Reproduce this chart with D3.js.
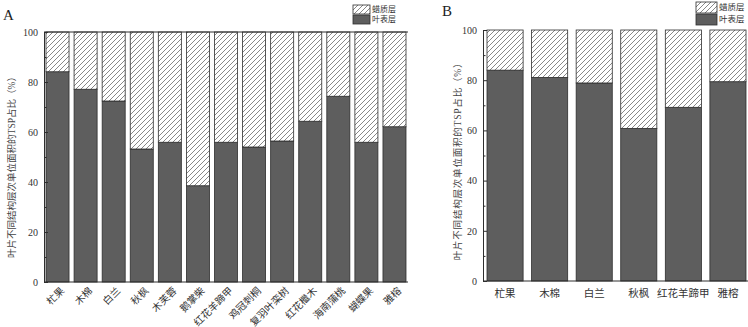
<!DOCTYPE html>
<html>
<head>
<meta charset="utf-8">
<script src="https://cdn.jsdelivr.net/npm/d3@7"></script>
<style>
  body { margin: 0; background: #fff; }
  svg { display: block; }
</style>
</head>
<body>
<svg id="chart" width="748" height="327"></svg>
<script>
// Panel A: 13 species
const speciesA = ["杧果", "木棉", "白兰", "秋枫", "木芙蓉", "鹅掌柴", "红花羊蹄甲", "鸡冠刺桐", "复羽叶栾树", "红花檵木", "海南蒲桃", "蝴蝶果", "雅榕"]
const epidermisA = [84.1, 77.1, 72.4, 53.2, 55.9, 38.5, 55.9, 54.0, 56.4, 64.3, 74.3, 55.9, 62.1]
const waxA = [15.9, 22.9, 27.6, 46.8, 44.1, 61.5, 44.1, 46.0, 43.6, 35.7, 25.7, 44.1, 37.9]

// Panel B: 6 species
const speciesB = ["杧果", "木棉", "白兰", "秋枫", "红花羊蹄甲", "雅榕"]
const epidermisB = [84.0, 81.1, 78.9, 60.8, 69.2, 79.4]
const waxB = [16.0, 18.9, 21.1, 39.2, 30.8, 20.6]

const seriesNames = ["叶表层", "蜡质层"]
const majorTicks = [0, 20, 40, 60, 80, 100]
const minorTicks = [10, 30, 50, 70, 90]
const yTitle = "叶片不同结构层次单位面积的TSP占比（%）"

const serif = "'Liberation Serif', 'Times New Roman', serif"
const cjk = "'Liberation Serif', 'Noto Sans CJK SC', serif"
const darkFill = "#5e5e5e"
const edge = "#2e2e2e"
const textColor = "#333"

const svg = d3.select("#chart")

// diagonal hatch for the wax layer
const defs = svg.append("defs")
const pat = defs.append("pattern")
  .attr("id", "hatch")
  .attr("patternUnits", "userSpaceOnUse")
  .attr("width", 5)
  .attr("height", 5)
pat.append("rect").attr("width", 5).attr("height", 5).attr("fill", "#fff")
pat.append("path")
  .attr("d", "M-1,1 L1,-1 M0,5 L5,0 M4,6 L6,4")
  .attr("stroke", "#555")
  .attr("stroke-width", 0.7)

function drawPanel(cfg) {
  const rows = cfg.species.map((s, i) => ({ name: s, 叶表层: cfg.epidermis[i], 蜡质层: cfg.wax[i] }))
  const stacked = d3.stack().keys(seriesNames)(rows)

  const x = d3.scaleBand()
    .domain(cfg.species)
    .range(cfg.xRange)
    .paddingInner(cfg.pad)
    .paddingOuter(0)

  const y = d3.scaleLinear()
    .domain([0, 100])
    .range(cfg.yRange)

  const g = svg.append("g")

  // bars
  stacked.forEach(layer => {
    g.append("g")
      .selectAll("rect")
      .data(layer)
      .join("rect")
      .attr("x", d => x(d.data.name))
      .attr("width", x.bandwidth())
      .attr("y", d => y(d[1]))
      .attr("height", d => y(d[0]) - y(d[1]))
      .attr("fill", layer.key === "蜡质层" ? "url(#hatch)" : darkFill)
      .attr("stroke", edge)
      .attr("stroke-width", 0.8)
  })

  // y axis, inward ticks
  const yAxis = g.append("g")
    .attr("transform", `translate(${cfg.axisX},0)`)
    .call(d3.axisLeft(y).tickValues(majorTicks).tickSizeInner(-4).tickSizeOuter(0).tickPadding(6))
  yAxis.selectAll("text")
    .style("font-family", serif)
    .style("font-size", "10px")
    .style("fill", textColor)
  yAxis.select(".domain").attr("stroke", edge)
  yAxis.selectAll(".tick line").attr("stroke", edge)

  const minor = g.append("g")
    .attr("transform", `translate(${cfg.axisX},0)`)
    .call(d3.axisLeft(y).tickValues(minorTicks).tickSize(-2.5).tickFormat(""))
  minor.select(".domain").remove()
  minor.selectAll(".tick line").attr("stroke", edge)

  // bottom axis line
  const xAxis = g.append("g")
    .attr("transform", `translate(0,${y(0)})`)
    .call(d3.axisBottom(x).tickSize(0).tickFormat(""))
  xAxis.select(".domain")
    .attr("d", `M${cfg.axisX},0H${cfg.xEnd}`)
    .attr("stroke", edge)

  if (cfg.topLine) {
    g.append("line")
      .attr("x1", cfg.axisX).attr("x2", cfg.xEnd)
      .attr("y1", y(100)).attr("y2", y(100))
      .attr("stroke", edge)
  }

  // category labels
  if (cfg.rotate) {
    g.selectAll(".xlab")
      .data(cfg.species)
      .join("text")
      .attr("class", "xlab")
      .attr("transform", d => `translate(${x(d) + x.bandwidth() / 2 + 5},${y(0) + 7}) rotate(-45)`)
      .attr("text-anchor", "end")
      .attr("dy", "0.35em")
      .style("font-family", cjk)
      .style("font-size", "10px")
      .style("fill", textColor)
      .text(d => d)
  } else {
    g.selectAll(".xlab")
      .data(cfg.species)
      .join("text")
      .attr("class", "xlab")
      .attr("x", d => x(d) + x.bandwidth() / 2)
      .attr("y", y(0) + 16)
      .attr("text-anchor", "middle")
      .style("font-family", cjk)
      .style("font-size", "10.5px")
      .style("fill", textColor)
      .text(d => d)
  }

  // y title
  g.append("text")
    .attr("transform", `translate(${cfg.titleX},${cfg.titleY}) rotate(-90)`)
    .attr("text-anchor", "middle")
    .attr("dy", "0.35em")
    .style("font-family", cjk)
    .style("font-size", "9.5px")
    .style("letter-spacing", cfg.titleSpacing)
    .style("fill", "#444")
    .text(yTitle)

  // panel letter
  g.append("text")
    .attr("x", cfg.letterX)
    .attr("y", cfg.letterY)
    .style("font-family", serif)
    .style("font-size", "15px")
    .style("fill", "#222")
    .text(cfg.letter)

  // legend
  const lg = cfg.legend
  const leg = g.append("g").attr("transform", `translate(${lg.x},${lg.y})`)
  leg.append("rect")
    .attr("width", lg.w).attr("height", lg.h)
    .attr("fill", "url(#hatch)").attr("stroke", edge).attr("stroke-width", 0.8)
  leg.append("rect")
    .attr("y", lg.h + 1).attr("width", lg.w).attr("height", lg.h)
    .attr("fill", darkFill).attr("stroke", edge).attr("stroke-width", 0.8)
  leg.selectAll("text")
    .data(["蜡质层", "叶表层"])
    .join("text")
    .attr("x", lg.w + 2)
    .attr("y", (d, i) => i * (lg.h + 1) + lg.h / 2)
    .attr("dy", "0.35em")
    .style("font-family", cjk)
    .style("font-size", lg.font)
    .style("fill", textColor)
    .text(d => d)
}

drawPanel({
  species: speciesA, epidermis: epidermisA, wax: waxA,
  xRange: [46, 406], pad: 0.18, yRange: [282, 32],
  axisX: 44, xEnd: 408, topLine: true, rotate: true,
  titleX: 12, titleY: 165, titleSpacing: "0px",
  letter: "A", letterX: 3, letterY: 20,
  legend: { x: 353, y: 5, w: 17, h: 9, font: "8px" }
})

drawPanel({
  species: speciesB, epidermis: epidermisB, wax: waxB,
  xRange: [487, 746], pad: 0.19, yRange: [281, 30],
  axisX: 483, xEnd: 748, topLine: false, rotate: false,
  titleX: 458, titleY: 159, titleSpacing: "0.8px",
  letter: "B", letterX: 442, letterY: 16,
  legend: { x: 696, y: 2, w: 21, h: 11, font: "8.5px" }
})
</script>
</body>
</html>
